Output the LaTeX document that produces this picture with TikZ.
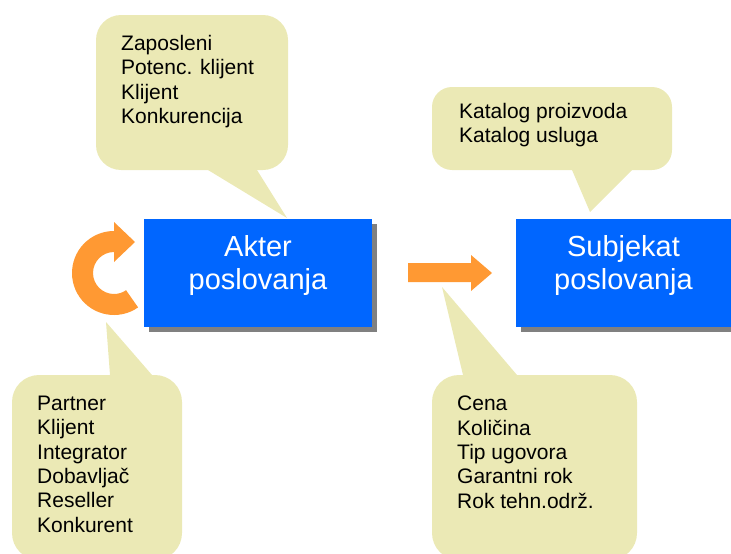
\documentclass[tikz,border=0pt]{standalone}
\usepackage{fontspec}
\setmainfont{Liberation Sans}
\usetikzlibrary{positioning,shadows}

\definecolor{noteyellow}{RGB}{235,233,181}
\definecolor{boxblue}{RGB}{0,102,255}
\definecolor{shadowgray}{RGB}{128,128,128}
\definecolor{arroworange}{RGB}{255,153,51}

\begin{document}
\begin{tikzpicture}[x=1pt,y=-1pt,
  note/.style={fill=noteyellow, rounded corners=25pt},
  notetext/.style={anchor=north west, align=left, inner sep=0pt,
    font=\fontsize{21}{24.3}\selectfont},
  bluebox/.style={fill=boxblue, minimum width=228pt, minimum height=108pt,
    inner sep=0pt, drop shadow={shadow xshift=5pt, shadow yshift=-5pt,
    opacity=1, fill=shadowgray}},
  boxtext/.style={text=white, align=center, inner sep=0pt,
    font=\fontsize{29}{33}\selectfont}]

\useasboundingbox (0,0) rectangle (731,554);
\clip (0,0) rectangle (731,554);

%% callouts
\fill[note] (96,15) rectangle (288,170);                  %% actors
\fill[noteyellow] (208,170) -- (287,218) -- (257,170) -- (257,160) -- (208,160) -- cycle;
\fill[note, rounded corners=20pt] (432,87) rectangle (672,170); %% catalog
\fill[noteyellow] (572,170) -- (590,212) -- (632,170) -- (632,160) -- (572,160) -- cycle;
\fill[note, rounded corners=27pt] (12,375) rectangle (182,560); %% roles
\fill[noteyellow] (110,375) -- (106,322) -- (152,375) -- (152,385) -- (110,385) -- cycle;
\fill[note, rounded corners=27pt] (432,375) rectangle (637,560); %% terms
\fill[noteyellow] (463,375) -- (442,287) -- (517,375) -- (517,385) -- (463,385) -- cycle;

%% callout texts
\node[notetext] (actorNote) at (121,35) {Zaposleni\\Potenc. klijent\\Klijent\\Konkurencija};
\node[notetext] (catalogNote) at (459,103) {Katalog proizvoda\\Katalog usluga};
\node[notetext] (roleNote) at (37,396) {Partner\\Klijent\\Integrator\\Dobavljač\\Reseller\\Konkurent};
\node[notetext] (termsNote) at (457,396) {Cena\\Količina\\Tip ugovora\\Garantni rok\\Rok tehn.održ.};

%% boxes
\node[bluebox] (akterBox) at (258,273) {};
\node[boxtext, below=16pt of akterBox.north] (akter) {Akter\\poslovanja};
\node[bluebox, minimum width=215pt] (subjekatBox) at (623.5,273) {};
\node[boxtext, below=16pt of subjekatBox.north] (subjekat) {Subjekat\\poslovanja};

%% arrows
\fill[arroworange] (114,273) ++(55:42) arc[start angle=55, end angle=270, radius=42]
  -- (114,222) -- (135,242) -- (114,262) -- (114,252)
  arc[start angle=270, end angle=55, radius=21] -- cycle;   %% loop
\fill[arroworange] (408,263) -- (471,263) -- (471,255) -- (492,273)
  -- (471,291) -- (471,282) -- (408,282) -- cycle;         %% akter -> subjekat
\end{tikzpicture}
\end{document}
